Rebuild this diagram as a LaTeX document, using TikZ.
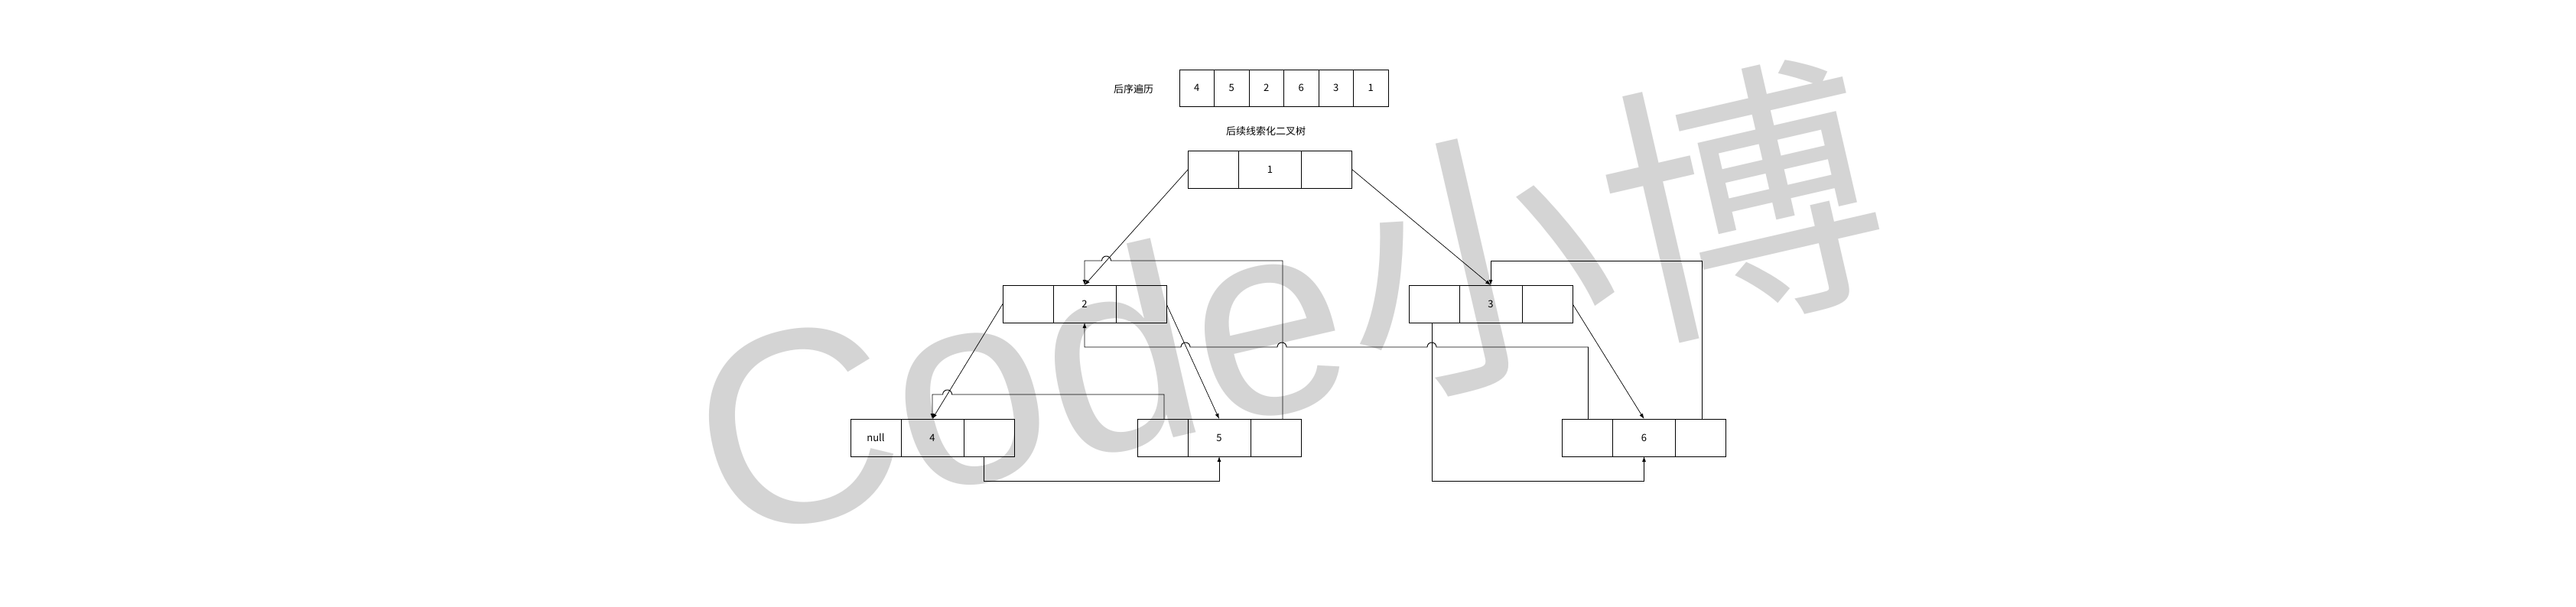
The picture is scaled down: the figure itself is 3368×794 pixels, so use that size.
\documentclass[tikz,border=0pt]{standalone}
\usepackage{fontspec}
\setmainfont{Noto Sans CJK SC}
\newfontfamily\markfont{Liberation Sans}
\usetikzlibrary{positioning,arrows.meta}
\definecolor{markgray}{RGB}{212,212,212}
\tikzset{
  side/.style={draw, minimum width=66pt, minimum height=49pt, inner sep=0pt, outer sep=0pt, font=\fontsize{13}{15}\selectfont},
  key/.style={side, minimum width=82pt},
  slot/.style={side, minimum width=45.5pt, minimum height=48pt},
  heading/.style={font=\fontsize{13}{15}\selectfont},
  child/.style={-{Latex[length=7pt,width=5pt]}, line width=0.7pt},
  thread/.style={-{Latex[length=7pt,width=5pt]}, line width=0.9pt},
}
\begin{document}
\begin{tikzpicture}[x=1pt, y=-1pt, line width=0.9pt]
  \useasboundingbox (0,0) rectangle (3368,794);
  \node[markgray, rotate=13, font=\fontsize{360}{360}\selectfont] (mark) at (1682,398) {{\markfont Code}小博};

  \node[heading] (order) at (1482,117) {后序遍历};
  \foreach \v [count=\i] in {4,5,2,6,3,1}
    \node[slot] (p\i) at (1519.25+45.5*\i,115) {\v};
  \node[heading] (title) at (1655,172) {后续线索化二叉树};

  \node[key] (n1) at (1660.5,221.5) {1};
  \node[side, left=0pt of n1] (n1l) {};
  \node[side, right=0pt of n1] (n1r) {};

  \node[key] (n2) at (1418,397.5) {2};
  \node[side, left=0pt of n2] (n2l) {};
  \node[side, right=0pt of n2] (n2r) {};

  \node[key] (n3) at (1949,397.5) {3};
  \node[side, left=0pt of n3] (n3l) {};
  \node[side, right=0pt of n3] (n3r) {};

  \node[key] (n4) at (1219,572.5) {4};
  \node[side, left=0pt of n4] (n4l) {null};
  \node[side, right=0pt of n4] (n4r) {};

  \node[key] (n5) at (1594,572.5) {5};
  \node[side, left=0pt of n5] (n5l) {};
  \node[side, right=0pt of n5] (n5r) {};

  \node[key] (n6) at (2149.5,572.5) {6};
  \node[side, left=0pt of n6] (n6l) {};
  \node[side, right=0pt of n6] (n6r) {};

  \draw[child] (n1l.west) -- (n2.north);
  \draw[child] (n1r.east) -- (n3.north);
  \draw[child] (n2l.west) -- (n4.north);
  \draw[child] (n2r.east) -- (n5.north);
  \draw[child] (n3r.east) -- (n6.north);

  \draw[thread] ([xshift=9pt]n5r.north) |- (1452.5,341)
    arc[start angle=0, end angle=180, radius=6pt] -| (n2.north);
  \draw[thread] ([xshift=2pt]n5l.north) |- (1244.6,516)
    arc[start angle=0, end angle=180, radius=6pt] -| (n4.north);
  \draw[thread] ([xshift=-7pt]n4r.south) -- ++(0,32) -| (n5.south);
  \draw[thread] ([xshift=1pt]n6l.north) |- (1878,454)
    arc[start angle=0, end angle=180, radius=6pt] -- (1682,454)
    arc[start angle=0, end angle=180, radius=6pt] -- (1556,454)
    arc[start angle=0, end angle=180, radius=6pt] -| (n2.south);
  \draw[thread] ([xshift=-3pt]n3l.south) -- ++(0,207) -| (n6.south);
  \draw[thread] ([xshift=2pt]n6r.north) -- ++(0,-207) -| (n3.north);
\end{tikzpicture}
\end{document}
